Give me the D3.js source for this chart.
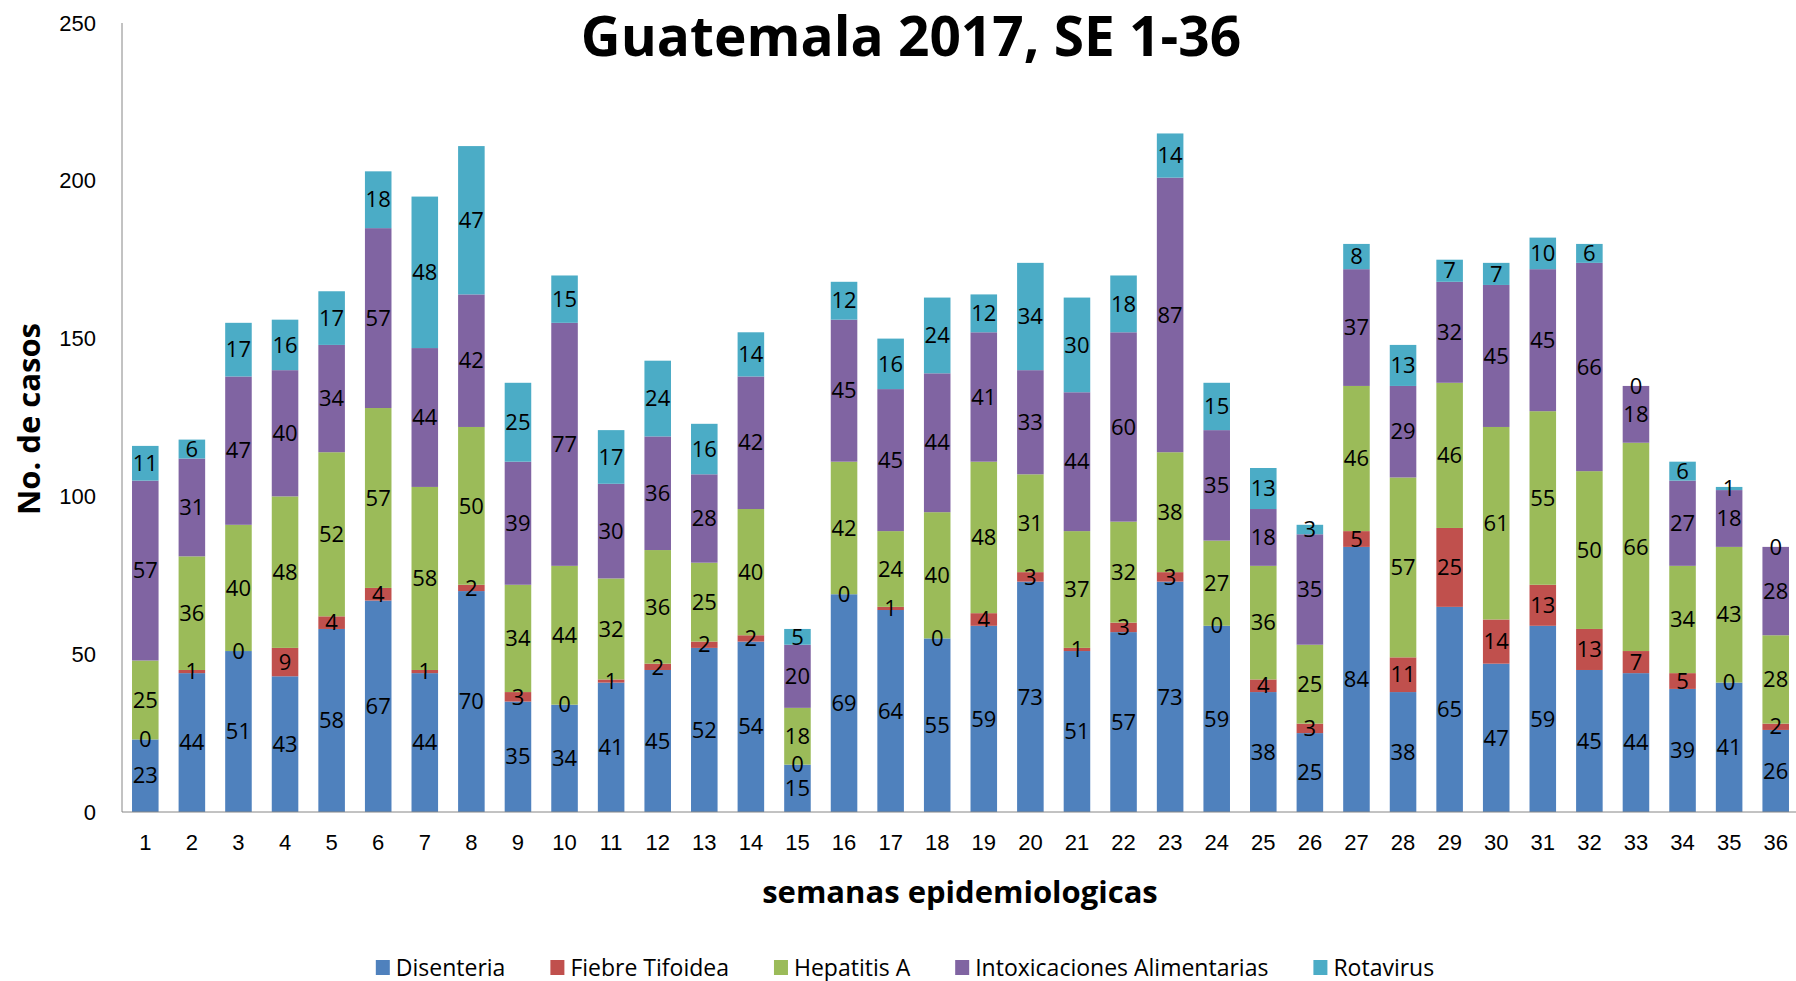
<!DOCTYPE html>
<html>
<head>
<meta charset="utf-8">
<script src="https://cdn.jsdelivr.net/npm/d3@7"></script>
<style>
  body { margin: 0; background: #fff; }
  svg { font-family: "Open Sans", sans-serif; }
  .axis path, .axis line { stroke: #868686; }
  .axis text { font-size: 22px; fill: #000; }
  .seg-label { font-size: 22px; fill: #000; }
</style>
</head>
<body>
<svg width="1796" height="981"></svg>
<script>
var weeks = d3.range(1, 37).map(String);
var seriesNames = ["Disenteria", "Fiebre Tifoidea", "Hepatitis A", "Intoxicaciones Alimentarias", "Rotavirus"];
var colors = ["#4f81bd", "#c0504d", "#9bbb59", "#8064a2", "#4bacc6"];

var disenteria = [23,44,51,43,58,67,44,70,35,34,41,45,52,54,15,69,64,55,59,73,51,57,73,59,38,25,84,38,65,47,59,45,44,39,41,26];
var fiebre     = [0,1,0,9,4,4,1,2,3,0,1,2,2,2,0,0,1,0,4,3,1,3,3,0,4,3,5,11,25,14,13,13,7,5,0,2];
var hepatitis  = [25,36,40,48,52,57,58,50,34,44,32,36,25,40,18,42,24,40,48,31,37,32,38,27,36,25,46,57,46,61,55,50,66,34,43,28];
var intox      = [57,31,47,40,34,57,44,42,39,77,30,36,28,42,20,45,45,44,41,33,44,60,87,35,18,35,37,29,32,45,45,66,18,27,18,28];
var rotavirus  = [11,6,17,16,17,18,48,47,25,15,17,24,16,14,5,12,16,24,12,34,30,18,14,15,13,3,8,13,7,7,10,6,0,6,1,0];
var yTicks = [0, 50, 100, 150, 200, 250];

var svg = d3.select("svg"),
    margin = {top: 23, right: -3, bottom: 169, left: 122},
    width = +svg.attr("width") - margin.left - margin.right,
    height = +svg.attr("height") - margin.top - margin.bottom;

// rows for the stack
var rows = weeks.map(function(w, i) {
  return {week: w, "Disenteria": disenteria[i], "Fiebre Tifoidea": fiebre[i],
    "Hepatitis A": hepatitis[i], "Intoxicaciones Alimentarias": intox[i], "Rotavirus": rotavirus[i]};
});
var stacked = d3.stack().keys(seriesNames)(rows);

var x = d3.scaleBand().domain(weeks).range([0, width]).paddingInner(0.43).paddingOuter(0.215);
var y = d3.scaleLinear().domain([0, 250]).range([height, 0]);
var color = d3.scaleOrdinal().domain(seriesNames).range(colors);

var chart = svg.append("g")
    .attr("transform", "translate(" + margin.left + "," + margin.top + ")");

// bars
var layer = chart.selectAll(".layer")
    .data(stacked)
  .enter().append("g")
    .attr("class", "layer")
    .attr("fill", function(d) { return color(d.key); });

layer.selectAll("rect")
    .data(function(d) { return d; })
  .enter().append("rect")
    .attr("x", function(d) { return x(d.data.week); })
    .attr("y", function(d) { return y(d[1]); })
    .attr("width", x.bandwidth())
    .attr("height", function(d) { return y(d[0]) - y(d[1]); });

// labels in the middle of each segment, drawn over all bars
var labelPoints = [];
stacked.forEach(function(s) {
  s.forEach(function(p) { labelPoints.push({p: p, key: s.key}); });
});
chart.append("g").selectAll(".seg-label")
    .data(labelPoints)
  .enter().append("text")
    .attr("class", "seg-label")
    .attr("x", function(d) { return x(d.p.data.week) + x.bandwidth() / 2; })
    .attr("y", function(d) { return y((d.p[0] + d.p[1]) / 2); })
    .attr("dy", "0.35em")
    .attr("text-anchor", "middle")
    .text(function(d) { return d.p.data[d.key]; });

// axes
var yAxis = chart.append("g")
    .attr("class", "y axis")
    .call(d3.axisLeft(y).tickValues(yTicks).tickSize(0).tickPadding(26));
yAxis.select(".domain").attr("d", "M0," + y(250) + "V" + y(0));

var xAxis = chart.append("g")
    .attr("class", "x axis")
    .attr("transform", "translate(0," + height + ")")
    .call(d3.axisBottom(x).tickSize(0).tickPadding(22));
xAxis.select(".domain").attr("d", "M0,0H" + width);

// titles
svg.append("text")
    .attr("x", 911)
    .attr("y", 56)
    .attr("text-anchor", "middle")
    .style("font-size", "55px")
    .style("font-weight", "bold")
    .text("Guatemala 2017, SE 1-36");

svg.append("text")
    .attr("x", 960)
    .attr("y", 892)
    .attr("dy", "0.35em")
    .attr("text-anchor", "middle")
    .style("font-size", "31px")
    .style("font-weight", "bold")
    .text("semanas epidemiologicas");

svg.append("text")
    .attr("transform", "translate(29,419) rotate(-90)")
    .attr("dy", "0.35em")
    .attr("text-anchor", "middle")
    .style("font-size", "31px")
    .style("font-weight", "bold")
    .text("No. de casos");

// legend
var legend = svg.append("g").attr("class", "legend");
var item = legend.selectAll(".item")
    .data(seriesNames)
  .enter().append("g")
    .attr("class", "item");
item.append("rect")
    .attr("width", 14)
    .attr("height", 15)
    .attr("y", -8)
    .attr("fill", function(d) { return color(d); });
item.append("text")
    .attr("x", 20)
    .attr("dy", "0.35em")
    .style("font-size", "23px")
    .text(function(d) { return d; });

var gap = 45, lx = 0;
item.each(function() {
  var g = d3.select(this);
  g.attr("transform", "translate(" + lx + ",0)");
  lx += 20 + g.select("text").node().getComputedTextLength() + gap;
});
legend.attr("transform", "translate(" + (905 - (lx - gap) / 2) + ",968)");
</script>
</body>
</html>
